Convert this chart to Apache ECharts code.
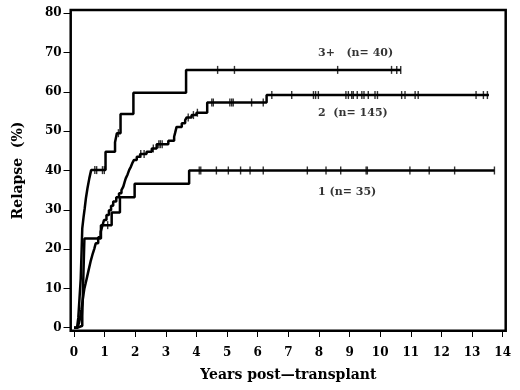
<!DOCTYPE html>
<html>
<head>
<meta charset="utf-8">
<script src="https://cdn.jsdelivr.net/npm/echarts@6/dist/echarts.min.js"></script>
<style>
  html, body { margin: 0; padding: 0; background: #fff; }
  #chart { width: 520px; height: 390px; }
</style>
</head>
<body>
<div id="chart"></div>
<script>
// Kaplan-Meier style step curves: [years, relapse %]
const curve1 = [[0, 0], [0.12, 0.5], [0.27, 2.9], [0.28, 5.7], [0.29, 8.6], [0.3, 11.4], [0.31, 14.3],
    [0.32, 17.1], [0.33, 20.0], [0.34, 22.7], [0.88, 26.1], [1.23, 29.3], [1.5, 33.2], [1.98, 36.6],
    [3.76, 40.0], [13.73, 40.0]];
const curve2 = [[0, 0], [0.1, 0], [0.16, 1.1], [0.2, 2.5], [0.24, 4.5], [0.27, 6.2], [0.31, 8.5],
    [0.34, 10.0], [0.38, 11.3], [0.43, 13.0], [0.49, 15.1], [0.54, 16.8], [0.6, 18.5], [0.66, 20.0],
    [0.71, 21.5], [0.79, 23.0], [0.87, 24.4], [0.93, 26.0], [0.98, 27.4], [1.06, 28.7], [1.14, 29.9],
    [1.21, 31.0], [1.28, 32.1], [1.38, 33.2], [1.47, 34.2], [1.55, 35.0], [1.61, 35.9], [1.65, 37.0],
    [1.69, 38.0], [1.75, 39.0], [1.8, 40.1], [1.86, 41.0], [1.9, 41.8], [1.96, 42.7], [2.05, 43.5],
    [2.16, 44.2], [2.37, 44.8], [2.54, 45.6], [2.7, 46.7], [3.08, 47.6], [3.27, 48.6], [3.3, 49.5],
    [3.35, 51.1], [3.52, 52.0], [3.63, 52.8], [3.68, 53.5], [3.84, 54.1], [4.0, 54.7], [4.35, 57.3],
    [6.29, 59.2], [13.55, 59.2]];
const curve3 = [[0, 0], [0.1, 0], [0.14, 2.5], [0.18, 7.5], [0.22, 12.5], [0.25, 20.0], [0.27, 25.3],
    [0.31, 28.0], [0.35, 30.4], [0.39, 33.0], [0.44, 35.5], [0.5, 38.0], [0.56, 40.1], [1.03, 44.8],
    [1.34, 47.2], [1.4, 49.5], [1.52, 54.4], [1.94, 59.8], [3.66, 65.6], [10.67, 65.6]];

// censoring times (years)
const censor1 = [1.1, 4.09, 4.14, 4.65, 5.04, 5.44, 5.75, 6.18, 7.62, 8.23, 8.71, 9.54, 9.58,
    10.97, 11.6, 12.43, 13.73];
const censor2 = [2.18, 2.29, 2.59, 2.77, 2.82, 2.88, 3.73, 3.9, 4.03, 4.5, 4.55, 5.09, 5.15, 5.2,
    5.8, 6.18, 6.46, 7.11, 7.82, 7.89, 7.98, 8.88, 8.96, 9.07, 9.12, 9.25, 9.4, 9.47, 9.61, 9.83,
    9.91, 10.7, 10.81, 11.14, 11.24, 13.13, 13.37, 13.5];
const censor3 = [0.68, 0.74, 0.93, 0.99, 1.45, 4.69, 5.24, 8.61, 10.37, 10.54, 10.67];

const groupLabels = ['3+   (n= 40)', '2  (n= 145)', '1 (n= 35)'];
const labelPos = [[7.97, 69.8], [7.97, 54.6], [7.97, 34.5]];

const font = "'DejaVu Serif', serif";

// relapse value of a step curve at time t
function valueAt(curve, t) {
    let v = curve[0][1];
    curve.forEach(p => { if (p[0] <= t) v = p[1]; });
    return v;
}

const chart = echarts.init(document.getElementById('chart'), null, { renderer: 'canvas' });

const lineStyle = { color: '#000', width: 2.5 };

const stepSeries = curve => ({
    type: 'line',
    step: 'end',
    data: curve,
    showSymbol: false,
    clip: false,
    lineStyle: lineStyle,
    z: 3
});

const censorSeries = (curve, times) => ({
    type: 'scatter',
    data: times.map(t => [t, valueAt(curve, t)]),
    symbol: 'rect',
    symbolSize: [1.4, 8],
    itemStyle: { color: '#000' },
    z: 4
});

const boldText = size => ({ fontFamily: font, fontWeight: 'bold', fontSize: size, color: '#000' });

// axis whose only visible part is its split lines (used as tick marks outside the frame)
const tickStripAxis = (gridIndex, min, max, interval) => ({
    type: 'value',
    gridIndex: gridIndex,
    min: min,
    max: max,
    interval: interval,
    axisLine: { show: false },
    axisTick: { show: false },
    axisLabel: { show: false },
    splitLine: { show: true, lineStyle: { color: '#000', width: 1 } }
});
const hiddenAxis = gridIndex => ({ type: 'value', gridIndex: gridIndex, show: false });

const option = {
    animation: false,
    backgroundColor: '#fff',
    grid: [
        // data area: 0..14 years, 0..80 %
        { left: 74, right: 17.3, top: 13.3, bottom: 62.3 },
        // frame round the plot
        { left: 70.7, right: 14.3, top: 10, bottom: 59.3, show: true, borderColor: '#000', borderWidth: 2.5 },
        // y tick strip left of the frame
        { left: 63.5, right: 449.3, top: 13.3, bottom: 62.3 },
        // x tick strip below the frame
        { left: 74, right: 17.3, top: 331, bottom: 53 }
    ],
    xAxis: [
        {
            type: 'value',
            gridIndex: 0,
            min: 0,
            max: 14,
            interval: 1,
            offset: 3,
            name: 'Years post\u2014transplant',
            nameLocation: 'middle',
            nameGap: 38,
            nameTextStyle: boldText(14),
            axisLine: { show: false },
            axisTick: { show: false },
            axisLabel: Object.assign({ margin: 16 }, boldText(12)),
            splitLine: { show: false }
        },
        hiddenAxis(1),
        hiddenAxis(2),
        tickStripAxis(3, 0, 14, 1)
    ],
    yAxis: [
        {
            type: 'value',
            gridIndex: 0,
            min: 0,
            max: 80,
            interval: 10,
            offset: 3.3,
            name: 'Relapse  (%)',
            nameLocation: 'middle',
            nameGap: 45,
            nameTextStyle: boldText(14),
            axisLine: { show: false },
            axisTick: { show: false },
            axisLabel: Object.assign({ margin: 9 }, boldText(12)),
            splitLine: { show: false }
        },
        hiddenAxis(1),
        tickStripAxis(2, 0, 80, 10),
        hiddenAxis(3)
    ],
    series: [
        stepSeries(curve1),
        stepSeries(curve2),
        stepSeries(curve3),
        censorSeries(curve1, censor1),
        censorSeries(curve2, censor2),
        censorSeries(curve3, censor3),
        {
            type: 'scatter',
            symbolSize: 0,
            data: labelPos.map((p, i) => ({ value: p, name: groupLabels[i] })),
            label: Object.assign({
                show: true,
                position: 'right',
                distance: 0,
                formatter: '{b}'
            }, boldText(11)),
            z: 5
        }
    ]
};

chart.setOption(option);
</script>
</body>
</html>
